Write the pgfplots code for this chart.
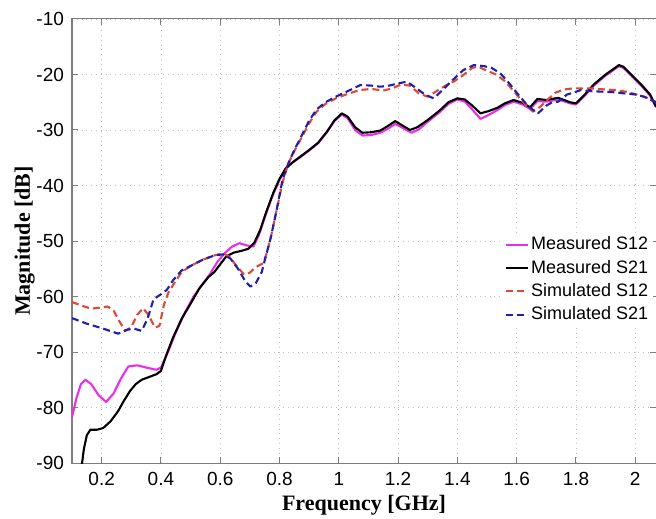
\documentclass[border=0pt]{standalone}
\usepackage{fontspec}
\setmainfont{Liberation Sans}
\newfontfamily\timesfont{Liberation Serif}
\usepackage{pgfplots}
\pgfplotsset{compat=1.18}
\definecolor{magS}{RGB}{235,45,235}
\definecolor{redS}{RGB}{222,72,52}
\definecolor{blueS}{RGB}{30,30,175}
\definecolor{frameg}{RGB}{125,125,125}
\begin{document}
\begin{tikzpicture}
\useasboundingbox (-36pt,-27.5pt) rectangle (292pt,231.5pt);
\begin{axis}[
  at={(0,0)}, anchor=south west,
  scale only axis, width=292pt, height=222pt,
  xmin=0.1, xmax=2.07, ymin=-90, ymax=-10,
  xtick={0.2,0.4,0.6,0.8,1,1.2,1.4,1.6,1.8,2},
  xticklabels={0.2,0.4,0.6,0.8,1,1.2,1.4,1.6,1.8,2},
  ytick={-90,-80,-70,-60,-50,-40,-30,-20,-10},
  yticklabels={-90,-80,-70,-60,-50,-40,-30,-20,-10},
  tick label style={font=\fontsize{9.5}{11}\selectfont},
  xticklabel style={yshift=-1pt},
  yticklabel style={xshift=-0.5pt},
  grid=major,
  major grid style={dotted, gray!50, line width=0.4pt},
  axis line style={frameg, line width=0.5pt},
  tick style={frameg, line width=0.5pt},
  tick align=inside, major tick length=3pt,
  xlabel={\timesfont\bfseries Frequency [GHz]},
  ylabel={\timesfont\bfseries Magnitude [dB]},
  xlabel style={at={(axis description cs:0.5,-0.108)}, anchor=base, font=\fontsize{11}{13}\selectfont},
  ylabel style={at={(axis description cs:-0.072,0.5)}, anchor=base, font=\fontsize{11}{13}\selectfont},
  legend style={at={(axis description cs:0.995,0.52)}, anchor=north east, draw=none, fill=white,
    font=\fontsize{9}{10}\selectfont, inner sep=1pt, row sep=1.2pt,
    nodes={inner sep=1.2pt}},
  legend cell align=left,
  legend image code/.code={\draw[#1] (0cm,0cm) -- (11pt,0cm);},
  every axis plot/.append style={line width=1.05pt, line join=round},
]
\addplot[magS] coordinates {
(0.100,-81.8) (0.115,-78.3) (0.130,-75.8) (0.145,-75.0) (0.165,-75.8) (0.190,-77.8)
(0.215,-79.0) (0.240,-77.5) (0.265,-74.8) (0.290,-72.6) (0.320,-72.4) (0.350,-72.8)
(0.385,-73.2) (0.400,-72.8) (0.420,-70.5) (0.450,-66.5) (0.480,-63.0) (0.510,-60.0)
(0.540,-57.8) (0.565,-56.0) (0.590,-53.8) (0.615,-52.2) (0.640,-51.0) (0.665,-50.4)
(0.690,-50.8) (0.712,-51.0) (0.730,-49.0) (0.750,-45.8) (0.775,-42.0) (0.800,-39.0)
(0.825,-36.6) (0.845,-35.8) (0.870,-34.9) (0.900,-33.7) (0.930,-32.4) (0.960,-30.4)
(0.985,-28.4) (1.010,-27.2) (1.030,-27.9) (1.055,-30.0) (1.080,-31.0) (1.110,-30.9)
(1.140,-30.5) (1.165,-29.8) (1.190,-28.9) (1.215,-29.6) (1.245,-30.5) (1.270,-29.9)
(1.300,-28.5) (1.340,-26.8) (1.370,-25.3) (1.400,-24.5) (1.425,-24.9) (1.450,-26.3)
(1.478,-28.0) (1.505,-27.3) (1.535,-26.4) (1.560,-25.5) (1.590,-24.9) (1.620,-25.4)
(1.645,-26.2) (1.670,-24.8) (1.700,-24.9) (1.740,-24.5) (1.780,-25.2) (1.800,-25.4)
(1.830,-23.8) (1.860,-22.0) (1.900,-20.2) (1.945,-18.5) (1.960,-18.8) (1.990,-20.4)
(2.020,-22.0) (2.050,-23.8) (2.070,-25.9)
};
\addlegendentry{Measured S12}
\addplot[black] coordinates {
(0.128,-92.5) (0.140,-87.5) (0.150,-85.0) (0.162,-84.0) (0.185,-84.0) (0.205,-83.7)
(0.230,-82.5) (0.255,-80.7) (0.275,-78.8) (0.296,-77.0) (0.315,-75.8) (0.335,-75.0)
(0.360,-74.5) (0.385,-74.0) (0.400,-73.4) (0.415,-71.0) (0.440,-67.5) (0.470,-64.0)
(0.500,-61.3) (0.530,-58.5) (0.560,-56.5) (0.580,-55.6) (0.600,-54.2) (0.620,-52.8)
(0.645,-52.1) (0.670,-51.8) (0.695,-51.4) (0.715,-50.3) (0.735,-48.0) (0.755,-44.8)
(0.780,-41.2) (0.800,-38.8) (0.820,-37.0) (0.845,-35.8) (0.870,-34.8) (0.900,-33.6)
(0.930,-32.3) (0.960,-30.3) (0.985,-28.3) (1.010,-27.0) (1.030,-27.6) (1.055,-29.5)
(1.080,-30.5) (1.110,-30.4) (1.140,-30.1) (1.165,-29.3) (1.190,-28.4) (1.215,-29.2)
(1.240,-30.0) (1.265,-29.5) (1.300,-28.2) (1.340,-26.5) (1.370,-25.0) (1.400,-24.3)
(1.425,-24.5) (1.450,-25.6) (1.478,-27.0) (1.505,-26.6) (1.535,-26.0) (1.560,-25.2)
(1.590,-24.6) (1.620,-25.1) (1.645,-25.9) (1.670,-24.4) (1.700,-24.6) (1.740,-24.2)
(1.780,-25.0) (1.800,-25.2) (1.830,-23.6) (1.860,-21.8) (1.900,-20.0) (1.945,-18.3)
(1.960,-18.6) (1.990,-20.2) (2.020,-21.8) (2.050,-23.6) (2.070,-25.8)
};
\addlegendentry{Measured S21}
\addplot[redS, dash pattern=on 3.5pt off 2pt] coordinates {
(0.100,-61.0) (0.130,-61.6) (0.165,-62.2) (0.195,-62.0) (0.220,-61.8) (0.240,-62.5)
(0.260,-64.5) (0.280,-66.2) (0.300,-65.5) (0.320,-63.3) (0.340,-62.1) (0.360,-63.5)
(0.380,-65.6) (0.395,-65.3) (0.410,-61.5) (0.425,-59.3) (0.445,-57.6) (0.470,-55.6)
(0.500,-54.5) (0.540,-53.4) (0.580,-52.6) (0.610,-52.2) (0.630,-52.8) (0.655,-54.5)
(0.680,-56.0) (0.700,-55.7) (0.720,-54.7) (0.745,-54.0) (0.755,-52.5) (0.770,-49.5)
(0.790,-44.5) (0.810,-39.5) (0.830,-36.0) (0.850,-33.8) (0.875,-31.3) (0.900,-28.8)
(0.925,-26.7) (0.955,-25.3) (0.990,-24.3) (1.030,-23.5) (1.070,-22.8) (1.110,-22.6)
(1.150,-22.9) (1.180,-22.5) (1.210,-21.8) (1.240,-22.0) (1.270,-23.4) (1.300,-24.0)
(1.330,-23.0) (1.360,-22.0) (1.390,-21.2) (1.420,-20.1) (1.450,-18.8) (1.470,-18.6)
(1.500,-19.3) (1.530,-20.0) (1.560,-21.2) (1.590,-23.0) (1.625,-25.2) (1.655,-26.7)
(1.680,-25.8) (1.705,-24.5) (1.730,-23.3) (1.760,-22.7) (1.790,-22.5) (1.850,-22.5)
(1.900,-22.7) (1.930,-22.8) (1.970,-23.1) (2.010,-23.7) (2.040,-24.2) (2.070,-25.0)
};
\addlegendentry{Simulated S12}
\addplot[blueS, dash pattern=on 3.5pt off 2pt] coordinates {
(0.100,-63.9) (0.150,-64.9) (0.200,-65.7) (0.256,-66.7) (0.285,-66.0) (0.310,-65.8)
(0.335,-66.2) (0.355,-64.0) (0.375,-60.5) (0.400,-59.6) (0.420,-58.8) (0.442,-57.0)
(0.470,-55.3) (0.500,-54.5) (0.540,-53.4) (0.580,-52.6) (0.610,-52.4) (0.635,-53.2)
(0.660,-55.0) (0.685,-57.3) (0.702,-58.2) (0.720,-57.6) (0.740,-55.6) (0.755,-52.5)
(0.770,-49.5) (0.790,-44.5) (0.810,-39.0) (0.830,-36.0) (0.850,-33.6) (0.875,-31.0)
(0.900,-28.3) (0.925,-26.3) (0.955,-25.0) (0.990,-24.0) (1.030,-23.0) (1.073,-21.9)
(1.110,-22.0) (1.140,-22.2) (1.170,-22.0) (1.200,-21.6) (1.230,-21.3) (1.265,-22.6)
(1.290,-23.6) (1.320,-24.3) (1.350,-22.8) (1.380,-21.2) (1.420,-19.2) (1.456,-18.3)
(1.490,-18.5) (1.515,-18.8) (1.545,-19.8) (1.575,-21.6) (1.605,-23.6) (1.640,-25.8)
(1.672,-27.0) (1.700,-25.6) (1.720,-25.0) (1.740,-24.9) (1.770,-23.6) (1.790,-23.3)
(1.816,-22.8) (1.850,-23.0) (1.890,-23.1) (1.930,-23.2) (1.962,-23.4) (2.000,-23.6)
(2.030,-24.0) (2.070,-25.0)
};
\addlegendentry{Simulated S21}
\end{axis}
\end{tikzpicture}
\end{document}
